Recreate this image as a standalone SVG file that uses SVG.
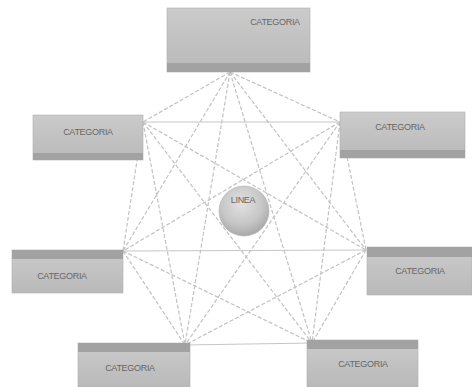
<svg xmlns="http://www.w3.org/2000/svg" width="472" height="387" viewBox="0 0 472 387">
<defs>
<style>
.box{fill:url(#boxg);stroke:#b0b0b0;stroke-width:0.6}
.strip{fill:#a2a2a2}
.lbl{font-family:"Liberation Sans",Arial,sans-serif;font-size:9px;fill:#666666;text-anchor:middle;letter-spacing:-0.3px}
.dash{stroke:#c2c2c2;stroke-width:1.2;stroke-dasharray:4 2;fill:none}
.solid{stroke:#c6c6c6;stroke-width:1.2;fill:none}
</style>
<linearGradient id="boxg" x1="0" y1="0" x2="0" y2="1">
<stop offset="0" stop-color="#cbcbcb"/>
<stop offset="1" stop-color="#b9b9b9"/>
</linearGradient>
<radialGradient id="sph" cx="0.45" cy="0.35" r="0.7">
<stop offset="0" stop-color="#e2e2e2"/>
<stop offset="0.6" stop-color="#c6c6c6"/>
<stop offset="1" stop-color="#a2a2a2"/>
</radialGradient>
</defs>
<rect width="472" height="387" fill="#ffffff"/>
<g id="connectors">
<line class="solid" x1="143" y1="122" x2="340" y2="122"/>
<line class="solid" x1="123" y1="251" x2="366" y2="250"/>
<line class="solid" x1="185" y1="345" x2="312" y2="343"/>
<line class="dash" x1="230" y1="72" x2="143" y2="122"/>
<line class="dash" x1="230" y1="72" x2="340" y2="122"/>
<line class="dash" x1="230" y1="72" x2="123" y2="251"/>
<line class="dash" x1="230" y1="72" x2="366" y2="250"/>
<line class="dash" x1="230" y1="72" x2="185" y2="345"/>
<line class="dash" x1="230" y1="72" x2="312" y2="343"/>
<line class="dash" x1="143" y1="122" x2="123" y2="251"/>
<line class="dash" x1="143" y1="122" x2="366" y2="250"/>
<line class="dash" x1="143" y1="122" x2="185" y2="345"/>
<line class="dash" x1="143" y1="122" x2="312" y2="343"/>
<line class="dash" x1="340" y1="122" x2="123" y2="251"/>
<line class="dash" x1="340" y1="122" x2="366" y2="250"/>
<line class="dash" x1="340" y1="122" x2="185" y2="345"/>
<line class="dash" x1="340" y1="122" x2="312" y2="343"/>
<line class="dash" x1="123" y1="251" x2="185" y2="345"/>
<line class="dash" x1="123" y1="251" x2="312" y2="343"/>
<line class="dash" x1="366" y1="250" x2="185" y2="345"/>
<line class="dash" x1="366" y1="250" x2="312" y2="343"/>
</g>
<g id="node-top">
<rect class="box" x="167" y="8" width="143" height="64"/>
<rect class="strip" x="167" y="63" width="143" height="9"/>
<text class="lbl" x="275" y="25">CATEGORIA</text>
</g>
<g id="node-upper-left">
<rect class="box" x="33" y="115" width="110" height="45"/>
<rect class="strip" x="33" y="153" width="110" height="7"/>
<text class="lbl" x="88" y="135">CATEGORIA</text>
</g>
<g id="node-upper-right">
<rect class="box" x="340" y="112" width="125" height="46"/>
<rect class="strip" x="340" y="150" width="125" height="8"/>
<text class="lbl" x="400" y="130">CATEGORIA</text>
</g>
<g id="node-lower-left">
<rect class="box" x="12" y="250" width="111" height="43"/>
<rect class="strip" x="12" y="250" width="111" height="9"/>
<text class="lbl" x="62" y="279">CATEGORIA</text>
</g>
<g id="node-lower-right">
<rect class="box" x="367" y="247" width="105" height="48"/>
<rect class="strip" x="367" y="247" width="105" height="10"/>
<text class="lbl" x="420" y="274">CATEGORIA</text>
</g>
<g id="node-bottom-left">
<rect class="box" x="78" y="343" width="112" height="44"/>
<rect class="strip" x="78" y="343" width="112" height="9"/>
<text class="lbl" x="130" y="371">CATEGORIA</text>
</g>
<g id="node-bottom-right">
<rect class="box" x="307" y="340" width="111" height="47"/>
<rect class="strip" x="307" y="340" width="111" height="9"/>
<text class="lbl" x="363" y="367">CATEGORIA</text>
</g>
<g id="node-center">
<circle cx="244" cy="211" r="25" fill="url(#sph)" stroke="#b0b0b0" stroke-width="0.6"/>
<text class="lbl" x="243" y="203">LINEA</text>
</g>
</svg>
